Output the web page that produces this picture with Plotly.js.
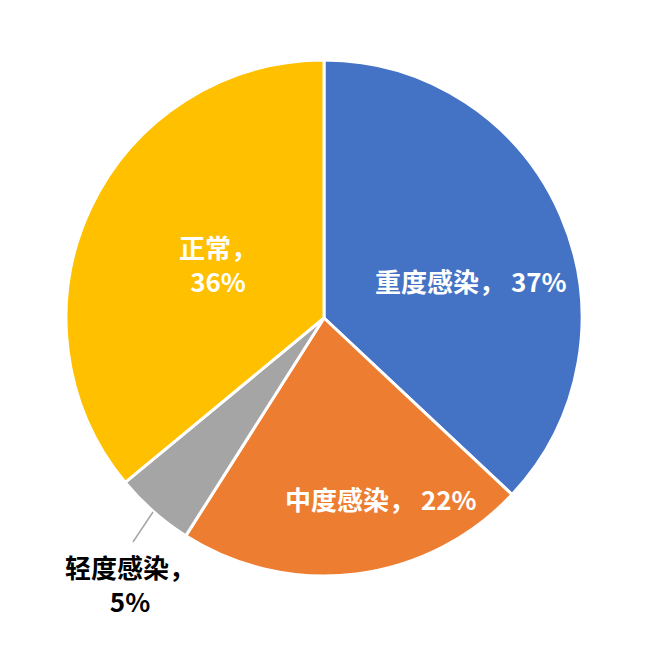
<!DOCTYPE html>
<html>
<head>
<meta charset="utf-8">
<script src="https://cdn.plot.ly/plotly-3.0.1.min.js"></script>
<style>
  html, body { margin: 0; padding: 0; background: #fff; }
  #plot { width: 667px; height: 648px; }
</style>
</head>
<body>
<div id="plot"></div>
<script>
const categories = ['重度感染', '中度感染', '轻度感染', '正常'];
const shares = [37, 22, 5, 36];
const colors = ['#4472C4', '#ED7D31', '#A5A5A5', '#FFC000'];
const breakLine = [false, false, true, true];
const textColors = ['#ffffff', '#ffffff', '#000000', '#ffffff'];

// label centres in paper coords (Excel-style placement)
const labelX = [0.785, 0.6095, 0.124, 0.2946];
const labelY = [0.5736, 0.151, -0.0136, 0.6057];

const labelText = categories.map((c, i) =>
  c + '，' + (breakLine[i] ? '<br>' : ' ') + shares[i] + '%');

var trace = {
    type: 'pie',
    labels: categories,
    values: shares,
    textinfo: 'none',
    hoverinfo: 'label+percent',
    sort: false,
    direction: 'clockwise',
    rotation: 0,
    marker: {
        colors: colors,
        line: {color: '#ffffff', width: 3}
    }
};

const labelFont = 'Liberation Sans Narrow, Noto Sans CJK SC, sans-serif';

const layout = {
    width: 667,
    height: 648,
    showlegend: false,
    paper_bgcolor: '#ffffff',
    margin: {l: 66, r: 85, t: 60, b: 72},
    annotations: labelText.map((t, i) => ({
        xref: 'paper', yref: 'paper',
        x: labelX[i], y: labelY[i],
        xanchor: 'center', yanchor: 'middle',
        text: t,
        showarrow: false,
        align: 'center',
        font: {family: labelFont, size: 26, color: textColors[i], weight: 'bold'}
    })),
    // leader line for the small outside label
    shapes: [{
        type: 'line', xref: 'paper', yref: 'paper',
        x0: 0.1686, y0: 0.124, x1: 0.1298, y1: 0.0659,
        line: {color: '#A6A6A6', width: 1.5}
    }]
};

Plotly.newPlot('plot', [trace], layout, {displayModeBar: false});
</script>
</body>
</html>
